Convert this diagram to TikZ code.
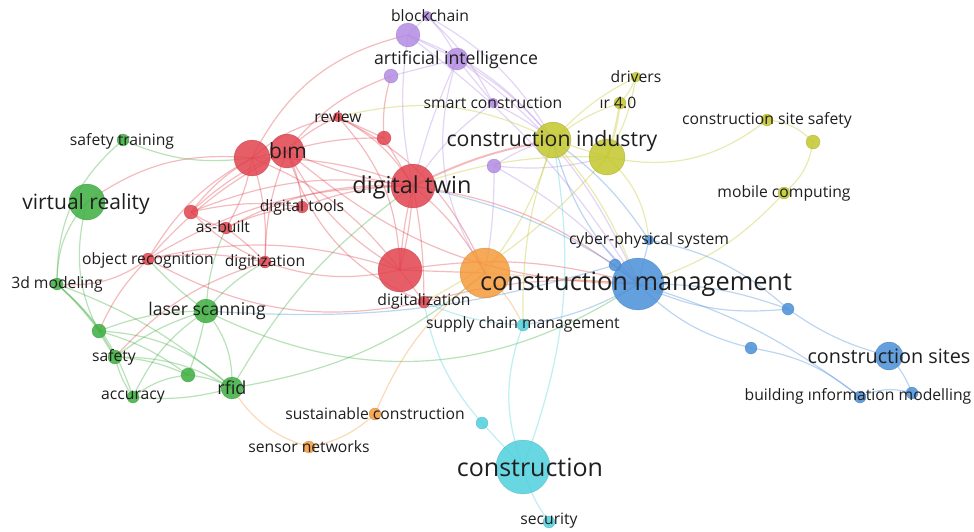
\documentclass[tikz,border=0pt]{standalone}
\usepackage{fontspec}
\setmainfont{Open Sans}
\usetikzlibrary{backgrounds}
\definecolor{cR}{HTML}{E2434E}
\definecolor{cG}{HTML}{3DAF3F}
\definecolor{cP}{HTML}{B38BE3}
\definecolor{cY}{HTML}{C3C72C}
\definecolor{cO}{HTML}{F59A3A}
\definecolor{cB}{HTML}{4A90D8}
\definecolor{cC}{HTML}{4FD0DE}
\tikzset{
 dot/.style={circle, inner sep=0pt, minimum size=#1, fill opacity=0.85, draw opacity=0.35, line width=0.5pt},
 rd/.style={dot=#1, fill=cR, draw=cR!70!black},
 gr/.style={dot=#1, fill=cG, draw=cG!70!black},
 pu/.style={dot=#1, fill=cP, draw=cP!70!black},
 ye/.style={dot=#1, fill=cY, draw=cY!70!black},
 og/.style={dot=#1, fill=cO, draw=cO!70!black},
 bu/.style={dot=#1, fill=cB, draw=cB!70!black},
 cy/.style={dot=#1, fill=cC, draw=cC!70!black},
 lab/.style={font=\fontsize{#1}{#1}\selectfont, text=black!88, inner sep=0pt},
 lab/.default=15.7,
 ed/.style={line width=1.2pt, draw opacity=0.36},
}
\begin{document}
\begin{tikzpicture}[x=1pt,y=-1pt]
\useasboundingbox (0,0) rectangle (974,531);
\begin{scope}[on background layer]
\fill[white] (0,0) rectangle (974,531);
\end{scope}
% ---- nodes ----
\node[rd=36] (R1) at (252,158) {};
\node[rd=34] (bim) at (287,151) {};
\node[rd=10] (review) at (338,117) {};
\node[rd=14] (r2) at (384,138) {};
\node[rd=44] (dt) at (413,186) {};
\node[rd=12] (dtools) at (302,207) {};
\node[rd=12] (asb) at (226,228) {};
\node[rd=14] (r3) at (191,212) {};
\node[rd=12] (objr) at (148,259) {};
\node[rd=12] (digz) at (265,262) {};
\node[rd=44] (r4) at (400,270) {};
\node[rd=12] (digl) at (424,302) {};
\node[pu=10] (blk) at (427,16) {};
\node[pu=24] (p1) at (408,35) {};
\node[pu=22] (ai) at (457,59) {};
\node[pu=14] (p2) at (391,76) {};
\node[pu=10] (smc) at (493,103) {};
\node[pu=14] (p3) at (494,166) {};
\node[ye=36] (ci) at (553,140) {};
\node[ye=36] (y1) at (607,157) {};
\node[ye=10] (drv) at (636,77) {};
\node[ye=12] (ir) at (620,103) {};
\node[ye=12] (css) at (767,120) {};
\node[ye=14] (y2) at (813,142) {};
\node[ye=12] (mob) at (784,193) {};
\node[og=50] (o1) at (485,273) {};
\node[og=12] (sus) at (375,414) {};
\node[og=12] (sen) at (309,447) {};
\node[bu=52] (cm) at (638,284) {};
\node[bu=10] (cps) at (649,240) {};
\node[bu=12] (b1) at (615,265) {};
\node[bu=12] (b2) at (788,309) {};
\node[bu=12] (b3) at (751,348) {};
\node[bu=28] (cs) at (889,356) {};
\node[bu=12] (bimL) at (860,397) {};
\node[bu=12] (bimR) at (912,393) {};
\node[cy=54] (con) at (523,467) {};
\node[cy=12] (scm) at (523,325) {};
\node[cy=12] (c1) at (482,423) {};
\node[cy=12] (sec) at (549,522) {};
\node[gr=36] (vr) at (87,202) {};
\node[gr=12] (st) at (123,140) {};
\node[gr=12] (m3d) at (57,284) {};
\node[gr=24] (ls) at (206,311) {};
\node[gr=14] (g1) at (99,331) {};
\node[gr=14] (saf) at (115,357) {};
\node[gr=12] (acc) at (133,397) {};
\node[gr=14] (g2) at (188,375) {};
\node[gr=22] (rfid) at (232,388) {};
% ---- edges ----
\begin{scope}[on background layer]
% green
\draw[ed,cG] (st.center) to[bend right=25] (m3d.center);
\draw[ed,cG] (st.center) to[bend right=15] (R1.center);
\draw[ed,cR] (vr.center) to[bend left=20] (R1.center);
\draw[ed,cG] (vr.center) to[bend right=20] (m3d.center);
\draw[ed,cG] (vr.center) to[bend right=25] (saf.center);
\draw[ed,cG] (m3d.center) to[bend left=10] (saf.center);
\draw[ed,cG] (m3d.center) to[bend left=15] (acc.center);
\draw[ed,cG] (m3d.center) to[bend left=5] (g1.center);
\draw[ed,cG] (m3d.center) to[bend left=10] (rfid.center);
\draw[ed,cR] (m3d.center) to[bend right=20] (objr.center);
\draw[ed,cG] (ls.center) to[bend right=10] (saf.center);
\draw[ed,cG] (ls.center) to[bend right=15] (acc.center);
\draw[ed,cG] (ls.center) to[bend left=20] (rfid.center);
\draw[ed,cG] (ls.center) to[bend right=10] (g1.center);
\draw[ed,cG] (ls.center) to[bend left=5] (g2.center);
\draw[ed,cG] (ls.center) to[bend left=10] (digz.center);
\draw[ed,cG] (ls.center) to[bend left=10] (asb.center);
\draw[ed,cG] (ls.center) to[bend left=5] (objr.center);
\draw[ed,cG] (ls.center) to[bend right=30] (cm.center);
\draw[ed,cG] (rfid.center) to[bend right=10] (g2.center);
\draw[ed,cG] (rfid.center) to[bend right=15] (saf.center);
\draw[ed,cG] (rfid.center) to[bend left=10] (acc.center);
\draw[ed,cG] (rfid.center) to[bend right=20] (g1.center);
\draw[ed,cG] (rfid.center) to[bend left=12] (dt.center);
\draw[ed,cO] (rfid.center) to[bend right=20] (sen.center);
\draw[ed,cG] (rfid.center) to[bend right=15] (o1.center);
\draw[ed,cG] (acc.center) to[bend left=10] (saf.center);
\draw[ed,cG] (acc.center) to[bend left=15] (g2.center);
\draw[ed,cG] (saf.center) to[bend left=10] (g2.center);
\draw[ed,cG] (g1.center) to[bend left=10] (g2.center);
\draw[ed,cR] (saf.center) to[bend left=15] (digz.center);
\draw[ed,cR] (g1.center) to[bend left=10] (objr.center);
% red
\draw[ed,cR] (R1.center) to (bim.center);
\draw[ed,cR] (R1.center) to[bend left=15] (review.center);
\draw[ed,cR] (R1.center) to[bend left=10] (dt.center);
\draw[ed,cR] (R1.center) to[bend right=10] (r3.center);
\draw[ed,cR] (R1.center) to[bend left=10] (asb.center);
\draw[ed,cR] (R1.center) to[bend right=15] (objr.center);
\draw[ed,cR] (R1.center) to[bend left=10] (digz.center);
\draw[ed,cR] (R1.center) to[bend left=15] (r4.center);
\draw[ed,cR] (R1.center) to[bend left=25] (p1.center);
\draw[ed,cR] (bim.center) to[bend left=10] (review.center);
\draw[ed,cR] (bim.center) to[bend left=8] (r2.center);
\draw[ed,cR] (bim.center) to[bend right=8] (dt.center);
\draw[ed,cR] (bim.center) to[bend left=10] (dtools.center);
\draw[ed,cR] (bim.center) to[bend right=10] (digz.center);
\draw[ed,cR] (bim.center) to[bend right=15] (r4.center);
\draw[ed,cR] (bim.center) to[bend right=25] (digl.center);
\draw[ed,cR] (bim.center) to[bend left=15] (p2.center);
\draw[ed,cR] (bim.center) to[bend right=10] (r3.center);
\draw[ed,cR] (bim.center) to[bend right=10] (objr.center);
\draw[ed,cR] (bim.center) to[bend right=20] (cm.center);
\draw[ed,cR] (review.center) to[bend left=15] (dt.center);
\draw[ed,cR] (review.center) to (r2.center);
\draw[ed,cR] (review.center) to[bend left=20] (r4.center);
\draw[ed,cR] (review.center) to[bend left=20] (o1.center);
\draw[ed,cR] (r2.center) to (dt.center);
\draw[ed,cR] (r2.center) to[bend left=10] (p2.center);
\draw[ed,cR, line width=2pt] (dt.center) to[bend left=8] (ci.center);
\draw[ed,cR] (dt.center) to[bend left=5] (r4.center);
\draw[ed,cR] (dt.center) to[bend right=5] (r4.center);
\draw[ed,cR] (dt.center) to[bend left=5] (digl.center);
\draw[ed,cR] (dt.center) to[bend left=15] (cm.center);
\draw[ed,cR] (dt.center) to[bend left=10] (o1.center);
\draw[ed,cR] (dt.center) to[bend right=10] (dtools.center);
\draw[ed,cR] (dt.center) to[bend right=15] (asb.center);
\draw[ed,cR] (dt.center) to[bend right=15] (objr.center);
\draw[ed,cR] (dt.center) to[bend right=15] (r3.center);
\draw[ed,cR] (r4.center) to[bend left=15] (digz.center);
\draw[ed,cR] (r4.center) to[bend left=12] (cm.center);
\draw[ed,cR] (r4.center) to (o1.center);
\draw[ed,cR] (r4.center) to (digl.center);
\draw[ed,cR] (r4.center) to[bend right=15] (objr.center);
\draw[ed,cR] (digl.center) to[bend left=20] (objr.center);
\draw[ed,cR] (digl.center) to[bend left=10] (cm.center);
\draw[ed,cR] (r3.center) to[bend right=10] (asb.center);
\draw[ed,cR] (r3.center) to[bend left=10] (dtools.center);
\draw[ed,cR] (r3.center) to[bend right=10] (digz.center);
\draw[ed,cR] (asb.center) to[bend left=5] (digz.center);
\draw[ed,cR] (asb.center) to[bend left=10] (dtools.center);
\draw[ed,cR] (objr.center) to[bend left=10] (digz.center);
% purple
\draw[ed,cP] (blk.center) to (p1.center);
\draw[ed,cP] (blk.center) to[bend left=10] (ai.center);
\draw[ed,cP] (blk.center) to[bend left=15] (ci.center);
\draw[ed,cP] (blk.center) to[bend left=10] (smc.center);
\draw[ed,cP] (p1.center) to (ai.center);
\draw[ed,cP] (p1.center) to[bend left=10] (cm.center);
\draw[ed,cP] (p1.center) to[bend right=10] (dt.center);
\draw[ed,cP] (p1.center) to[bend left=15] (ci.center);
\draw[ed,cP] (ai.center) to (p2.center);
\draw[ed,cP] (ai.center) to[bend left=10] (ci.center);
\draw[ed,cP] (ai.center) to[bend left=15] (cm.center);
\draw[ed,cP] (ai.center) to[bend right=5] (dt.center);
\draw[ed,cP] (ai.center) to (smc.center);
\draw[ed,cP] (ai.center) to[bend right=25] (o1.center);
\draw[ed,cP] (smc.center) to[bend left=5] (ci.center);
\draw[ed,cP] (smc.center) to[bend right=10] (dt.center);
\draw[ed,cP] (p3.center) to[bend left=10] (ci.center);
\draw[ed,cP] (p3.center) to[bend right=10] (y1.center);
\draw[ed,cP] (p3.center) to[bend left=10] (cm.center);
\draw[ed,cP] (p3.center) to[bend left=5] (o1.center);
% yellow
\draw[ed,cY] (ci.center) to (y1.center);
\draw[ed,cY] (ci.center) to[bend left=10] (drv.center);
\draw[ed,cY] (ci.center) to[bend left=10] (ir.center);
\draw[ed,cY] (ci.center) to[bend left=10] (cm.center);
\draw[ed,cY] (ci.center) to[bend right=20] (review.center);
\draw[ed,cY] (ci.center) to[bend left=10] (o1.center);
\draw[ed,cY] (ci.center) to[bend right=10] (scm.center);
\draw[ed,cC] (ci.center) to[bend left=15] (con.center);
\draw[ed,cY] (y1.center) to[bend right=10] (drv.center);
\draw[ed,cY, line width=2.5pt] (y1.center) to[bend right=5] (ir.center);
\draw[ed,cY] (y1.center) to[bend right=25] (css.center);
\draw[ed,cY] (y1.center) to[bend left=20] (cps.center);
\draw[ed,cY] (y1.center) to[bend left=10] (digl.center);
\draw[ed,cY] (y1.center) to[bend right=10] (dt.center);
\draw[ed,cY] (css.center) to[bend left=20] (y2.center);
\draw[ed,cY] (y2.center) to[bend left=20] (mob.center);
\draw[ed,cY] (mob.center) to[bend left=15] (cm.center);
\draw[ed,cY] (drv.center) to[bend left=10] (ir.center);
% orange
\draw[ed,cO] (o1.center) to (cm.center);
\draw[ed,cO] (o1.center) to[bend right=15] (sus.center);
\draw[ed,cO] (sus.center) to[bend left=15] (sen.center);
\draw[ed,cO] (o1.center) to[bend left=10] (scm.center);
% blue
\draw[ed,cB] (cm.center) to (cps.center);
\draw[ed,cB] (cm.center) to (b1.center);
\draw[ed,cB] (cm.center) to[bend left=10] (b2.center);
\draw[ed,cB] (cm.center) to[bend right=15] (b2.center);
\draw[ed,cB] (cm.center) to[bend right=15] (b3.center);
\draw[ed,cB] (cm.center) to[bend left=10] (bimL.center);
\draw[ed,cB] (cm.center) to[bend left=15] (ci.center);
\draw[ed,cB] (cm.center) to[bend left=10] (scm.center);
\draw[ed,cB] (b2.center) to[bend right=10] (cs.center);
\draw[ed,cB] (b3.center) to[bend left=15] (bimL.center);
\draw[ed,cB] (cs.center) to[bend left=10] (bimR.center);
\draw[ed,cB] (bimL.center) to[bend left=20] (bimR.center);
\draw[ed,cB] (cps.center) to[bend right=10] (ci.center);
\draw[ed,cB] (cps.center) to[bend left=15] (b2.center);
\draw[ed,cB] (b1.center) to[bend right=10] (dt.center);
\draw[ed,cB] (b1.center) to[bend left=10] (ls.center);
% cyan
\draw[ed,cC] (con.center) to[bend left=20] (scm.center);
\draw[ed,cC] (con.center) to (c1.center);
\draw[ed,cC] (con.center) to[bend right=10] (sec.center);
\draw[ed,cC] (c1.center) to[bend left=15] (digl.center);
\draw[ed,cC] (scm.center) to[bend left=10] (digl.center);
\end{scope}
% ---- labels ----
\node[lab=21] (lbim) at (288,151) {bım};
\node[lab] (lreview) at (338,117) {review};
\node[lab=23.4] (ldt) at (412,187) {digital twin};
\node[lab] (ldtools) at (302,207) {digital tools};
\node[lab] (lasb) at (223,227) {as-built};
\node[lab] (lobjr) at (148,260) {object recognition};
\node[lab] (ldigz) at (265,262) {digitization};
\node[lab] (ldigl) at (424,301) {digitalization};
\node[lab] (lblk) at (430,16) {blockchain};
\node[lab=17.7] (lai) at (456,60) {artificial intelligence};
\node[lab] (lsmc) at (493,103) {smart construction};
\node[lab=21.2] (lci) at (552,141) {construction industry};
\node[lab] (ldrv) at (636,77) {drivers};
\node[lab] (lir) at (618,103) {ır 4.0};
\node[lab] (lcss) at (767,120) {construction site safety};
\node[lab] (lmob) at (784,193) {mobile computing};
\node[lab] (lsus) at (375,414) {sustainable construction};
\node[lab] (lsen) at (309,447) {sensor networks};
\node[lab=25.3] (lcm) at (636,284) {construction management};
\node[lab] (lcps) at (649,240) {cyber-physical system};
\node[lab=19.8] (lcs) at (889,356) {construction sites};
\node[lab] (lbimm) at (858,396) {building ınformation modelling};
\node[lab=25] (lcon) at (530,467) {construction};
\node[lab] (lscm) at (523,324) {supply chain management};
\node[lab] (lsec) at (549,521) {security};
\node[lab=21] (lvr) at (86,204) {virtual reality};
\node[lab] (lst) at (122,141) {safety training};
\node[lab] (lm3d) at (57,284) {3d modeling};
\node[lab=17.6] (lls) at (207,311) {laser scanning};
\node[lab] (lsaf) at (114,357) {safety};
\node[lab] (lacc) at (133,397) {accuracy};
\node[lab=18] (lrfid) at (232,388) {rfid};
\end{tikzpicture}
\end{document}
